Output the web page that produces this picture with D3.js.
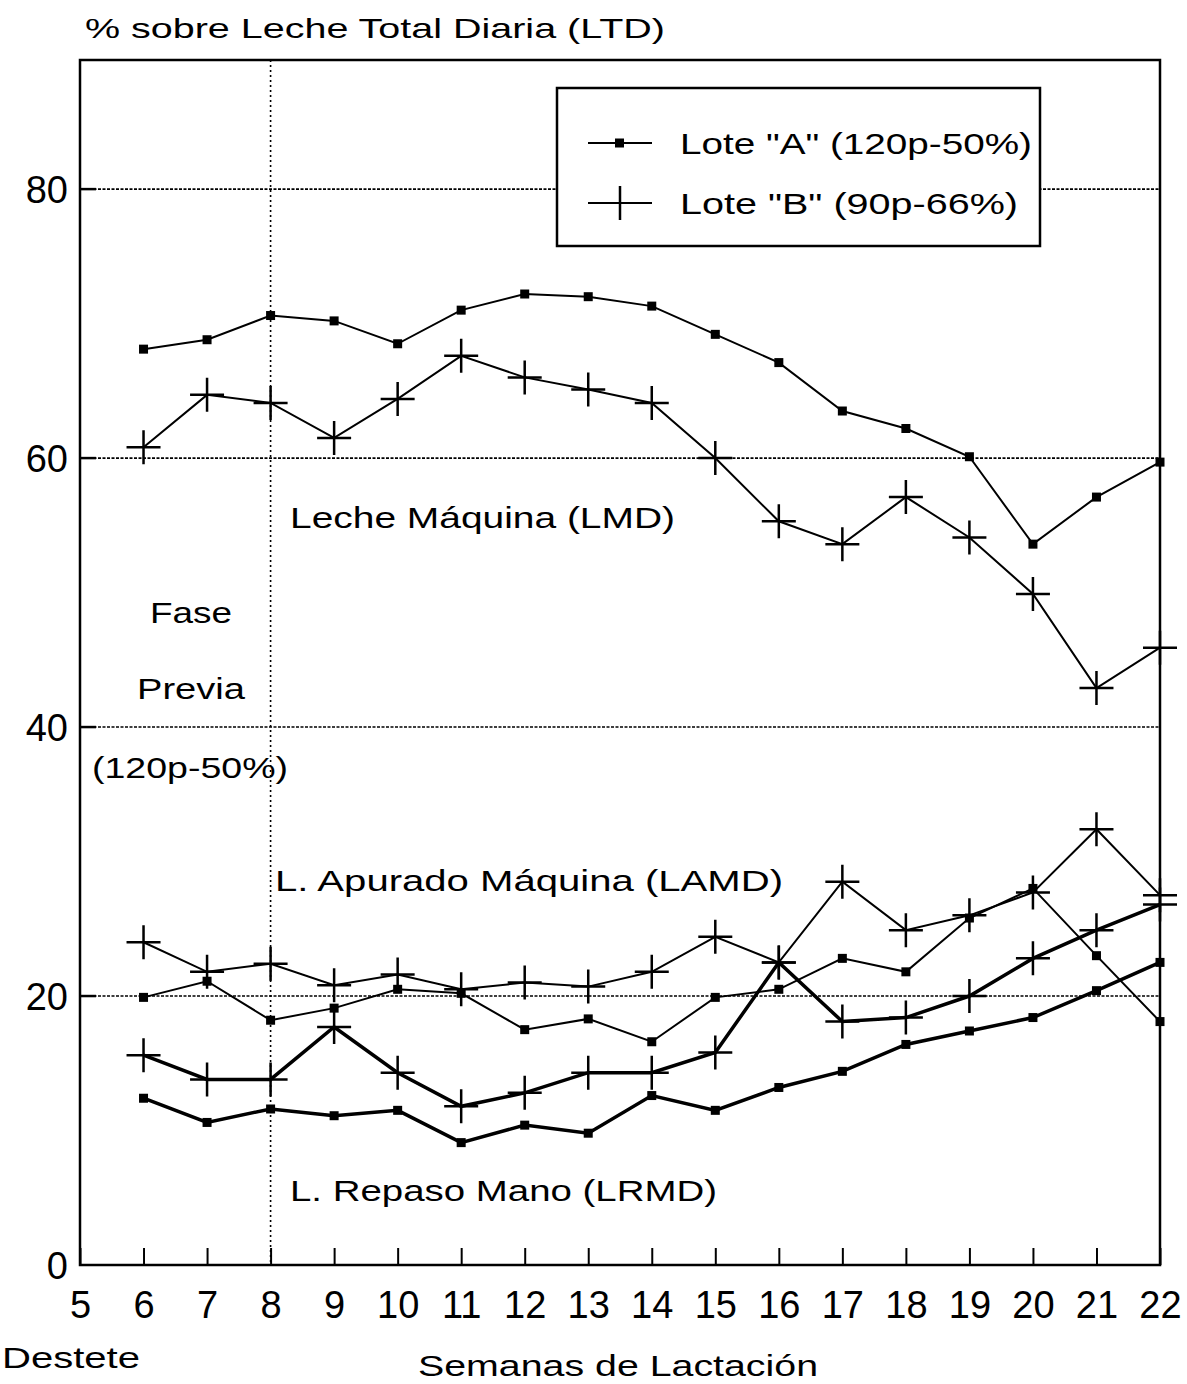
<!DOCTYPE html>
<html>
<head>
<meta charset="utf-8">
<script src="https://cdn.jsdelivr.net/npm/d3@7"></script>
<style>
  body { margin: 0; background: #fff; }
  svg text { font-family: "Liberation Sans", Arial, sans-serif; fill: #000; }
</style>
</head>
<body>
<svg id="chart" width="1187" height="1384"></svg>
<script>
// weeks of lactation (x axis)
const weeks = [6, 7, 8, 9, 10, 11, 12, 13, 14, 15, 16, 17, 18, 19, 20, 21, 22];
const xTicks = [5, 6, 7, 8, 9, 10, 11, 12, 13, 14, 15, 16, 17, 18, 19, 20, 21, 22];
const yTicks = [0, 20, 40, 60, 80];

// Leche Máquina (LMD)
const lmdA = [68.1, 68.8, 70.6, 70.2, 68.5, 71.0, 72.2, 72.0, 71.3, 69.2, 67.1, 63.5, 62.2, 60.1, 53.6, 57.1, 59.7];
const lmdB = [60.8, 64.7, 64.1, 61.5, 64.4, 67.6, 66.0, 65.1, 64.1, 60.0, 55.3, 53.6, 57.1, 54.1, 49.9, 42.9, 45.9];
// L. Apurado Máquina (LAMD)
const lamdA = [19.9, 21.1, 18.2, 19.1, 20.5, 20.2, 17.5, 18.3, 16.6, 19.9, 20.5, 22.8, 21.8, 25.8, 28.0, 23.0, 18.1];
const lamdB = [24.0, 21.8, 22.4, 20.8, 21.6, 20.5, 21.0, 20.7, 21.8, 24.4, 22.5, 28.5, 24.9, 26.0, 27.7, 32.4, 27.5];
// L. Repaso Mano (LRMD)
const lrmdA = [12.4, 10.6, 11.6, 11.1, 11.5, 9.1, 10.4, 9.8, 12.6, 11.5, 13.2, 14.4, 16.4, 17.4, 18.4, 20.4, 22.5];
const lrmdB = [15.6, 13.8, 13.8, 17.7, 14.3, 11.8, 12.8, 14.3, 14.3, 15.8, 22.5, 18.1, 18.4, 20.0, 22.8, 24.9, 26.8];

const legendLabels = ['Lote "A" (120p-50%)', 'Lote "B" (90p-66%)'];

const svg = d3.select("#chart");

const x = d3.scaleLinear().domain([5, 22]).range([80, 1160]);
const y = d3.scaleLinear().domain([0, 89.6]).range([1265, 60]);

// dotted grid lines
svg.append("g")
  .selectAll("line")
  .data(yTicks.filter(d => d > 0))
  .enter()
  .append("line")
  .attr("x1", x(5)).attr("x2", x(22))
  .attr("y1", d => y(d)).attr("y2", d => y(d))
  .attr("stroke", "#000")
  .attr("stroke-width", 1.6)
  .attr("stroke-dasharray", "3,1.5");

// vertical line at week 8 (end of fase previa)
svg.append("line")
  .attr("x1", x(8)).attr("x2", x(8))
  .attr("y1", y(89.6)).attr("y2", y(0))
  .attr("stroke", "#000")
  .attr("stroke-width", 1.6)
  .attr("stroke-dasharray", "2,3");

// frame
svg.append("rect")
  .attr("x", x(5)).attr("y", y(89.6))
  .attr("width", x(22) - x(5)).attr("height", y(0) - y(89.6))
  .attr("fill", "none")
  .attr("stroke", "#000")
  .attr("stroke-width", 2.5);

// x axis: inward ticks, labels below
const xAxis = d3.axisBottom(x)
  .tickValues(xTicks)
  .tickFormat(d3.format("d"))
  .tickSizeInner(-17)
  .tickSizeOuter(0)
  .tickPadding(26);

const gx = svg.append("g")
  .attr("transform", `translate(0,${y(0)})`)
  .call(xAxis);
gx.select(".domain").remove();
gx.selectAll(".tick line").attr("stroke", "#000").attr("stroke-width", 2);
gx.selectAll(".tick text")
  .attr("font-size", 38)
  .style("font-family", "Liberation Sans, Arial, sans-serif");

// y labels
svg.append("g")
  .selectAll("text")
  .data(yTicks)
  .enter()
  .append("text")
  .attr("x", 68)
  .attr("y", d => y(d) + 14)
  .attr("text-anchor", "end")
  .attr("font-size", 38)
  .text(d => d);

// small ticks at the left border
svg.append("g")
  .selectAll("line")
  .data(yTicks.filter(d => d > 0))
  .enter()
  .append("line")
  .attr("x1", x(5)).attr("x2", x(5) + 16)
  .attr("y1", d => y(d)).attr("y2", d => y(d))
  .attr("stroke", "#000")
  .attr("stroke-width", 2.5);

const line = d3.line()
  .x((d, i) => x(weeks[i]))
  .y(d => y(d));

const series = [
  { values: lmdA, marker: "square", width: 2 },
  { values: lmdB, marker: "cross", width: 2 },
  { values: lamdA, marker: "square", width: 2 },
  { values: lamdB, marker: "cross", width: 2 },
  { values: lrmdA, marker: "square", width: 3.5 },
  { values: lrmdB, marker: "cross", width: 3.5 }
];

series.forEach(function (s) {
  svg.append("path")
    .datum(s.values)
    .attr("d", line)
    .attr("fill", "none")
    .attr("stroke", "#000")
    .attr("stroke-width", s.width);

  const pts = svg.append("g")
    .selectAll("g")
    .data(s.values)
    .enter()
    .append("g")
    .attr("transform", (d, i) => `translate(${x(weeks[i])},${y(d)})`);

  if (s.marker === "square") {
    pts.append("rect")
      .attr("x", -4.5).attr("y", -4.5)
      .attr("width", 9).attr("height", 9)
      .attr("fill", "#000");
  } else {
    pts.append("path")
      .attr("d", "M-17,0H17M0,-17V17")
      .attr("stroke", "#000")
      .attr("stroke-width", 2.5);
  }
});

// legend
const legend = svg.append("g");
legend.append("rect")
  .attr("x", 557).attr("y", 88)
  .attr("width", 483).attr("height", 158)
  .attr("fill", "#fff")
  .attr("stroke", "#000")
  .attr("stroke-width", 2.5);

const legendWidths = [352, 338];
legendLabels.forEach(function (label, i) {
  const ly = 143 + i * 60;
  legend.append("line")
    .attr("x1", 588).attr("x2", 652)
    .attr("y1", ly).attr("y2", ly)
    .attr("stroke", "#000")
    .attr("stroke-width", 2);
  if (i === 0) {
    legend.append("rect")
      .attr("x", 615).attr("y", ly - 4.5)
      .attr("width", 9).attr("height", 9)
      .attr("fill", "#000");
  } else {
    legend.append("line")
      .attr("x1", 620).attr("x2", 620)
      .attr("y1", ly - 17).attr("y2", ly + 17)
      .attr("stroke", "#000")
      .attr("stroke-width", 2.5);
  }
  legend.append("text")
    .attr("x", 680)
    .attr("y", ly + 11)
    .attr("font-size", 30)
    .attr("textLength", legendWidths[i])
    .attr("lengthAdjust", "spacingAndGlyphs")
    .text(label);
});

// annotations (w = width of the text in the picture)
const notes = [
  { text: "% sobre Leche Total Diaria (LTD)", x: 85, y: 38, size: 28, w: 580 },
  { text: "Leche Máquina (LMD)", x: 290, y: 528, size: 30, w: 385 },
  { text: "Fase", x: 150, y: 623, size: 30, w: 82 },
  { text: "Previa", x: 137, y: 699, size: 30, w: 108 },
  { text: "(120p-50%)", x: 92, y: 778, size: 30, w: 196 },
  { text: "L. Apurado Máquina (LAMD)", x: 275, y: 891, size: 30, w: 508 },
  { text: "L. Repaso Mano (LRMD)", x: 290, y: 1201, size: 30, w: 427 },
  { text: "Destete", x: 2, y: 1368, size: 30, w: 138 },
  { text: "Semanas de Lactación", x: 418, y: 1376, size: 30, w: 400 }
];

svg.append("g")
  .selectAll("text")
  .data(notes)
  .enter()
  .append("text")
  .attr("x", d => d.x)
  .attr("y", d => d.y)
  .attr("font-size", d => d.size)
  .attr("textLength", d => d.w)
  .attr("lengthAdjust", "spacingAndGlyphs")
  .text(d => d.text);
</script>
</body>
</html>
